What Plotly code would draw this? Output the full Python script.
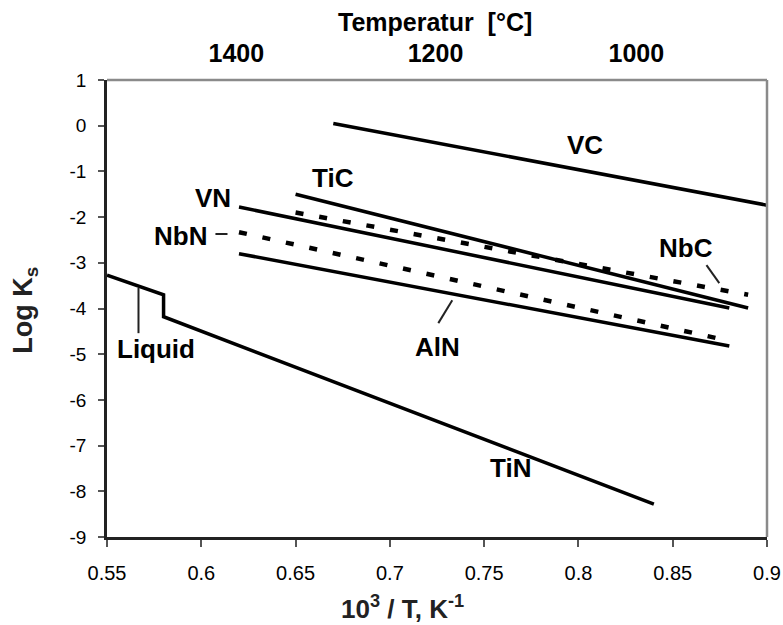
import plotly.graph_objects as go

# ---- data (x = 10^3/T in K^-1, y = log Ks) ----
vc_x = [0.67, 0.90]
vc_y = [0.05, -1.74]
tic_x = [0.65, 0.89]
tic_y = [-1.50, -3.99]
vn_x = [0.62, 0.88]
vn_y = [-1.78, -3.99]
nbc_x = [0.65, 0.89]
nbc_y = [-1.90, -3.70]
nbn_x = [0.62, 0.88]
nbn_y = [-2.33, -4.71]
aln_x = [0.62, 0.88]
aln_y = [-2.80, -4.82]
tin_x = [0.55, 0.58, 0.58, 0.84]
tin_y = [-3.27, -3.70, -4.18, -8.28]

# label texts and positions (data coords)
label_text = ["VC", "TiC", "VN", "NbN", "NbC", "AlN", "Liquid", "TiN"]
label_x = [0.8037, 0.670, 0.606, 0.589, 0.8573, 0.7252, 0.576, 0.764]
label_y = [-0.42, -1.146, -1.584, -2.416, -2.68, -4.85, -4.89, -7.50]

# leader lines
leader_liquid_x = [0.5667, 0.5667]
leader_liquid_y = [-3.55, -4.54]
leader_nbn_x = [0.6075, 0.6139]
leader_nbn_y = [-2.37, -2.37]
leader_nbc_x = [0.8679, 0.8747]
leader_nbc_y = [-3.05, -3.445]
leader_aln_x = [0.7331, 0.7257]
leader_aln_y = [-3.82, -4.32]

# top temperature axis
temp_tick_x = [0.6186, 0.7242, 0.8307]
temp_tick_text = ["1400", "1200", "1000"]

# bottom/left ticks
x_ticks = [0.55, 0.6, 0.65, 0.7, 0.75, 0.8, 0.85, 0.9]
x_tick_text = ["0.55", "0.6", "0.65", "0.7", "0.75", "0.8", "0.85", "0.9"]
y_ticks = [1, 0, -1, -2, -3, -4, -5, -6, -7, -8, -9]
y_tick_text = ["1", "0", "-1", "-2", "-3", "-4", "-5", "-6", "-7", "-8", "-9"]

FONT = "Arial, Liberation Sans, sans-serif"
fig = go.Figure()

solid = dict(color="black", width=3.5)
dotted = dict(color="black", width=4.5, dash="8px,16px")

for xs, ys, ln in [(vc_x, vc_y, solid), (tic_x, tic_y, solid), (vn_x, vn_y, solid),
                   (nbc_x, nbc_y, dotted), (nbn_x, nbn_y, dotted), (aln_x, aln_y, solid),
                   (tin_x, tin_y, solid)]:
    fig.add_trace(go.Scatter(x=xs, y=ys, mode="lines", line=ln, showlegend=False,
                             hoverinfo="skip"))

for xs, ys in [(leader_liquid_x, leader_liquid_y), (leader_nbn_x, leader_nbn_y),
               (leader_nbc_x, leader_nbc_y), (leader_aln_x, leader_aln_y)]:
    fig.add_trace(go.Scatter(x=xs, y=ys, mode="lines", line=dict(color="#222", width=2),
                             showlegend=False, hoverinfo="skip"))

# invisible trace for top axis
fig.add_trace(go.Scatter(x=[0.55, 0.9], y=[0, 0], xaxis="x2", mode="lines",
                         line=dict(width=0), showlegend=False, hoverinfo="skip"))

for t, x, y in zip(label_text, label_x, label_y):
    fig.add_annotation(x=x, y=y, text="<b>%s</b>" % t, showarrow=False,
                       font=dict(family=FONT, size=26, color="black"),
                       xanchor="center", yanchor="middle")

# axis titles
fig.add_annotation(xref="paper", yref="paper", x=0.4476, y=-0.155,
                   text="<b>10<sup>3</sup> / T, K<sup>-1</sup></b>", showarrow=False,
                   font=dict(family=FONT, size=26, color="#222"),
                   xanchor="center", yanchor="middle")
fig.add_annotation(xref="paper", yref="paper", x=-0.1236, y=0.496,
                   text="<b>Log K<sub>s</sub></b>", showarrow=False, textangle=-90,
                   font=dict(family=FONT, size=27, color="#222"),
                   xanchor="center", yanchor="middle")
fig.add_annotation(xref="paper", yref="paper", x=0.4976, y=1.127,
                   text="<b>Temperatur  [°C]</b>", showarrow=False,
                   font=dict(family=FONT, size=25, color="black"),
                   xanchor="center", yanchor="middle")

# top and right frame (gray)
fig.add_shape(type="line", xref="paper", yref="paper", x0=0, x1=1, y0=1, y1=1,
              line=dict(color="#8a8a8a", width=2.5))
fig.add_shape(type="line", xref="paper", yref="paper", x0=1, x1=1, y0=0, y1=1,
              line=dict(color="#8a8a8a", width=2.5))

fig.update_layout(
    width=783, height=625,
    margin=dict(l=107, r=16, t=80, b=88, autoexpand=False),
    paper_bgcolor="white", plot_bgcolor="white",
    xaxis=dict(range=[0.55, 0.9], tickvals=x_ticks, ticktext=x_tick_text, automargin=False,
               showgrid=False, zeroline=False, showline=True, linecolor="#222", linewidth=2.5,
               ticks="outside", ticklen=7, tickwidth=1.5, tickcolor="#555",
               ticklabelstandoff=9,
               tickfont=dict(family=FONT, size=20, color="black")),
    xaxis2=dict(range=[0.55, 0.9], overlaying="x", side="top", tickvals=temp_tick_x,
                ticktext=temp_tick_text, showgrid=False, zeroline=False, showline=False,
                ticks="", ticklabelstandoff=12, automargin=False,
                tickfont=dict(family=FONT, size=25, color="black", weight="bold")),
    yaxis=dict(range=[-9, 1], tickvals=y_ticks, ticktext=y_tick_text, automargin=False,
               showgrid=False, zeroline=False, showline=True, linecolor="#222", linewidth=2.5,
               ticks="outside", ticklen=6, tickwidth=1.5, tickcolor="#555",
               ticklabelstandoff=8,
               tickfont=dict(family=FONT, size=19, color="black")),
)

fig.write_html("out.html")
